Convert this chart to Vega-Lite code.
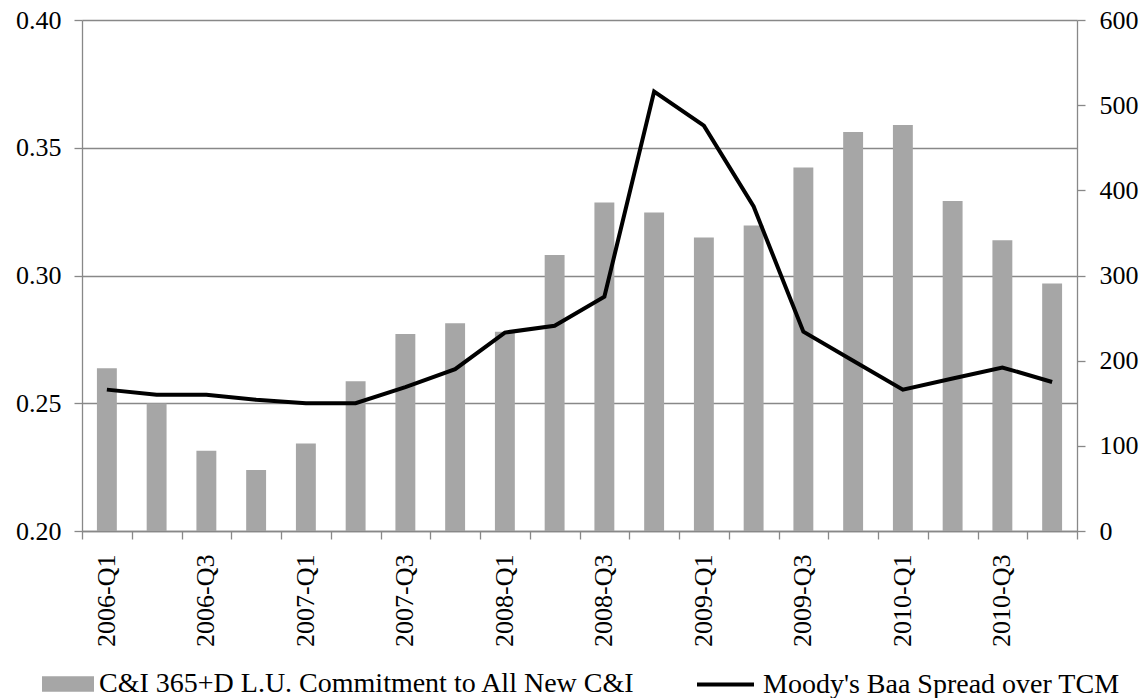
{
  "$schema": "https://vega.github.io/schema/vega-lite/v6.json",
  "autosize": {"type": "none"},
  "padding": {"left": 82, "top": 20, "right": 69, "bottom": 167},
  "width": 995,
  "height": 511,
  "config": {
    "view": {"stroke": null},
    "font": "Liberation Serif",
    "axis": {
      "labelFont": "Liberation Serif",
      "labelFontSize": 26,
      "labelColor": "#000000",
      "domainColor": "#888888",
      "domainWidth": 1.3,
      "tickColor": "#888888",
      "tickWidth": 1.3,
      "tickSize": 8,
      "gridColor": "#888888",
      "gridWidth": 1.3
    },
    "legend": {
      "labelFont": "Liberation Serif",
      "labelFontSize": 28,
      "labelColor": "#000000",
      "labelLimit": 0,
      "padding": 0
    }
  },
  "data": {
    "values": [
      {"q": "2006-Q1", "ci": 0.2637, "baa": 166},
      {"q": "2006-Q2", "ci": 0.2499, "baa": 160},
      {"q": "2006-Q3", "ci": 0.2314, "baa": 160},
      {"q": "2006-Q4", "ci": 0.2239, "baa": 154},
      {"q": "2007-Q1", "ci": 0.2342, "baa": 150},
      {"q": "2007-Q2", "ci": 0.2586, "baa": 150},
      {"q": "2007-Q3", "ci": 0.2771, "baa": 169},
      {"q": "2007-Q4", "ci": 0.2813, "baa": 190},
      {"q": "2008-Q1", "ci": 0.278, "baa": 233},
      {"q": "2008-Q2", "ci": 0.308, "baa": 241},
      {"q": "2008-Q3", "ci": 0.3286, "baa": 275},
      {"q": "2008-Q4", "ci": 0.3247, "baa": 516},
      {"q": "2009-Q1", "ci": 0.3149, "baa": 476},
      {"q": "2009-Q2", "ci": 0.3196, "baa": 381},
      {"q": "2009-Q3", "ci": 0.3423, "baa": 234},
      {"q": "2009-Q4", "ci": 0.3562, "baa": 200},
      {"q": "2010-Q1", "ci": 0.3589, "baa": 166},
      {"q": "2010-Q2", "ci": 0.3292, "baa": 179},
      {"q": "2010-Q3", "ci": 0.3138, "baa": 192},
      {"q": "2010-Q4", "ci": 0.2969, "baa": 175}
    ]
  },
  "layer": [
    {
      "mark": {"type": "rule", "opacity": 0},
      "encoding": {
        "x": {
          "datum": 0,
          "type": "quantitative",
          "scale": {"domain": [0, 20], "nice": false, "zero": true},
          "axis": {
            "title": null,
            "orient": "bottom",
            "values": [0, 1, 2, 3, 4, 5, 6, 7, 8, 9, 10, 11, 12, 13, 14, 15, 16, 17, 18, 19, 20],
            "labels": false,
            "ticks": true,
            "domain": true,
            "grid": false
          }
        }
      }
    },
    {
      "mark": {"type": "bar", "color": "#a6a6a6"},
      "encoding": {
        "x": {
          "field": "q",
          "type": "ordinal",
          "sort": null,
          "scale": {"paddingInner": 0.6, "paddingOuter": 0.3},
          "axis": {
            "title": null,
            "orient": "bottom",
            "values": ["2006-Q1", "2006-Q3", "2007-Q1", "2007-Q3", "2008-Q1", "2008-Q3", "2009-Q1", "2009-Q3", "2010-Q1", "2010-Q3"],
            "domain": false,
            "ticks": true,
            "tickOpacity": 0,
            "labelAngle": 270,
            "labelAlign": "right",
            "labelBaseline": "middle",
            "labelPadding": 15
          }
        },
        "y": {
          "field": "ci",
          "type": "quantitative",
          "scale": {"domain": [0.2, 0.4], "zero": false, "nice": false},
          "axis": {
            "title": null,
            "orient": "left",
            "values": [0.2, 0.25, 0.3, 0.35, 0.4],
            "format": ".2f",
            "grid": true,
            "labelPadding": 13
          }
        },
        "y2": {"datum": 0.2},
        "fill": {
          "datum": "C&I 365+D L.U. Commitment to All New C&I",
          "scale": {"range": ["#a6a6a6"]},
          "legend": {
            "title": null,
            "orient": "none",
            "legendX": -40,
            "legendY": 638,
            "symbolType": "M-1,-0.3H1V0.3H-1Z",
            "symbolSize": 2704,
            "symbolStrokeWidth": 0,
            "labelOffset": 5
          }
        }
      }
    },
    {
      "mark": {"type": "line", "color": "#000000", "strokeWidth": 4},
      "encoding": {
        "x": {
          "field": "q",
          "type": "ordinal",
          "sort": null,
          "scale": {"paddingInner": 0.6, "paddingOuter": 0.3},
          "axis": null
        },
        "y": {
          "field": "baa",
          "type": "quantitative",
          "scale": {"domain": [0, 600], "nice": false},
          "axis": {
            "title": null,
            "orient": "right",
            "values": [0, 100, 200, 300, 400, 500, 600],
            "grid": false,
            "labelPadding": 14
          }
        },
        "stroke": {
          "datum": "Moody's Baa Spread over TCM",
          "scale": {"range": ["#000000"]},
          "legend": {
            "title": null,
            "orient": "none",
            "legendX": 613,
            "legendY": 634,
            "symbolType": "stroke",
            "symbolSize": 3249,
            "symbolStrokeWidth": 4,
            "labelOffset": 7
          }
        }
      }
    }
  ],
  "resolve": {"scale": {"x": "independent", "y": "independent"}}
}
